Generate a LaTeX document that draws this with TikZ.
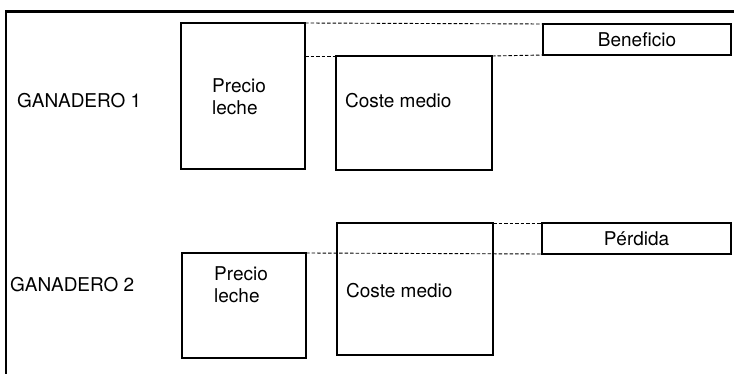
\documentclass[tikz,border=0pt]{standalone}
\usepackage{fontspec}
\setmainfont{TeX Gyre Heros}
\usetikzlibrary{positioning}

\tikzset{
  caja/.style={draw, line width=1.7pt, inner sep=0pt, outer sep=0pt, anchor=north west},
  texto/.style={inner sep=0pt, align=left, font=\fontsize{19}{22}\selectfont},
  guia/.style={line width=0.9pt, dash pattern=on 3.5pt off 2pt},
}

\begin{document}
\begin{tikzpicture}[x=1pt, y=-1pt]
			%%%%% MARCO %%%%%
			\useasboundingbox (0, 0) rectangle (734, 374);
			\draw[line width=3pt] (5, 12) -- (734, 12);
			\draw[line width=2.2pt] (6, 12) -- (6, 374);

			%%%%% GANADERO 1 %%%%%
			\node[caja, minimum width=124pt, minimum height=146pt] (precio1) at (181, 23) {};
			\node[caja, minimum width=156pt, minimum height=114pt] (coste1) at (336, 56) {};
			\node[caja, minimum width=188pt, minimum height=31pt] (beneficio) at (543, 24) {};

			\draw[guia] (precio1.north east) -- (beneficio.north west);
			\draw[guia] (precio1.north east |- coste1.north west) -- (coste1.north west);
			\draw[guia] (coste1.north east) -- (beneficio.south west);

			\node[texto, anchor=west] (ganadero1) at (17, 101) {GANADERO 1};
			\node[texto, anchor=west] (precio1txt) at (212, 97) {Precio\\leche};
			\node[texto, anchor=west] (coste1txt) at (345, 101) {Coste medio};
			\node[texto] (beneficiotxt) at (beneficio.center) {Beneficio};

			%%%%% GANADERO 2 %%%%%
			\node[caja, minimum width=124pt, minimum height=105pt] (precio2) at (182, 253) {};
			\node[caja, minimum width=156pt, minimum height=132pt] (coste2) at (337, 223) {};
			\node[caja, minimum width=189pt, minimum height=31pt] (perdida) at (542, 223) {};

			\draw[guia] (coste2.north east) -- (perdida.north west);
			\draw[guia] (precio2.north east) -- (perdida.south west);

			\node[texto, anchor=west] (ganadero2) at (10, 285) {GANADERO 2};
			\node[texto, anchor=west] (precio2txt) at (214, 285) {Precio\\leche};
			\node[texto, anchor=west] (coste2txt) at (346, 291) {Coste medio};
			\node[texto] (perdidatxt) at (perdida.center) {Pérdida};
\end{tikzpicture}
\end{document}
